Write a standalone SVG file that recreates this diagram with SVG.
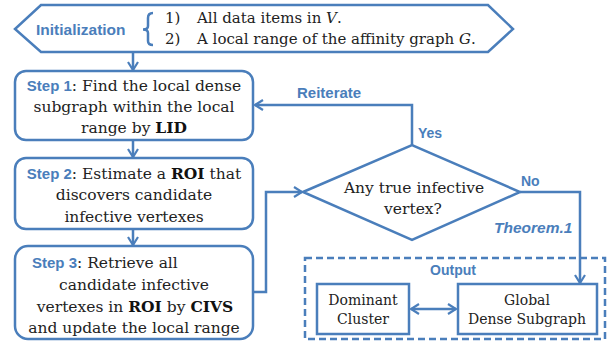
<svg xmlns="http://www.w3.org/2000/svg" width="612" height="345" viewBox="0 0 612 345">
<defs>
<style>
.shape{fill:#fff;stroke:#4a7ebb;stroke-width:2.5}
.line{fill:none;stroke:#4a7ebb;stroke-width:2.5}
.blue{font-family:"Liberation Sans",Arial,sans-serif;font-weight:bold;fill:#4a7ebb}
.serif{font-family:"DejaVu Serif","Liberation Serif",serif;fill:#222}
.b{font-weight:bold;fill:#111}
</style>
<marker id="arr" viewBox="0 0 12 12" refX="10" refY="6" markerWidth="12" markerHeight="12" markerUnits="userSpaceOnUse" orient="auto">
<path d="M2,1 L10,6 L2,11" fill="none" stroke="#4a7ebb" stroke-width="2.2"/>
</marker>
<marker id="arrs" viewBox="0 0 12 12" refX="2" refY="6" markerWidth="12" markerHeight="12" markerUnits="userSpaceOnUse" orient="auto">
<path d="M10,1 L2,6 L10,11" fill="none" stroke="#4a7ebb" stroke-width="2.2"/>
</marker>
</defs>

<g id="connectors">
<line class="line" x1="133" y1="53" x2="133" y2="70" marker-end="url(#arr)"/>
<line class="line" x1="133" y1="141" x2="133" y2="157" marker-end="url(#arr)"/>
<line class="line" x1="133" y1="230" x2="133" y2="245" marker-end="url(#arr)"/>
<polyline class="line" points="254,292 266,292 266,192 302,192" marker-end="url(#arr)"/>
<polyline class="line" points="412,145 412,105 255,105" marker-end="url(#arr)"/>
<polyline class="line" points="520,192 580,192 580,283" marker-end="url(#arr)"/>
<line class="line" x1="411" y1="309" x2="456" y2="309" marker-start="url(#arrs)" marker-end="url(#arr)"/>
<text class="blue" x="297" y="98" font-size="15">Reiterate</text>
<text class="blue" x="418" y="138" font-size="14">Yes</text>
<text class="blue" x="521" y="186" font-size="14">No</text>
<text class="blue" x="494" y="233" font-size="15.5" font-style="italic">Theorem.1</text>
</g>

<g id="init">
<polygon class="shape" points="41,5 488,5 513,29 488,52 41,52 15,29"/>
<text class="blue" x="36" y="35" font-size="15.5">Initialization</text>
<path class="line" d="M153,13 Q148,13 148,18 L148,26 Q148,29.5 143,29.5 Q148,29.5 148,33 L148,41 Q148,45 153,45" stroke-width="2"/>
<text class="serif" font-size="15"><tspan x="165" y="23">1)</tspan><tspan x="197" y="23">All data items in <tspan font-style="italic">V</tspan>.</tspan><tspan x="165" y="44">2)</tspan><tspan x="197" y="44">A local range of the affinity graph <tspan font-style="italic">G</tspan>.</tspan></text>
</g>

<g id="step1">
<rect class="shape" x="15" y="71" width="238" height="69" rx="11"/>
<text class="serif" font-size="15.5" text-anchor="middle"><tspan x="134" y="91"><tspan class="blue" font-size="15">Step 1</tspan>: Find the local dense</tspan><tspan x="134" y="112">subgraph within the local</tspan><tspan x="134" y="133">range by <tspan class="b">LID</tspan></tspan></text>
</g>

<g id="step2">
<rect class="shape" x="15" y="158" width="238" height="71" rx="11"/>
<text class="serif" font-size="15.5" text-anchor="middle"><tspan x="134" y="179"><tspan class="blue" font-size="15">Step 2</tspan>: Estimate a <tspan class="b">ROI</tspan>  that</tspan><tspan x="134" y="200">discovers candidate</tspan><tspan x="134" y="222">infective vertexes</tspan></text>
</g>

<g id="step3">
<rect class="shape" x="15" y="246" width="238" height="93" rx="13"/>
<text class="serif" font-size="15.5"><tspan x="32" y="268"><tspan class="blue" font-size="15">Step 3</tspan>: Retrieve all</tspan></text>
<text class="serif" font-size="15.5" text-anchor="middle"><tspan x="134" y="290">candidate infective</tspan><tspan x="135" y="312">vertexes in <tspan class="b">ROI</tspan>  by <tspan class="b">CIVS</tspan></tspan><tspan x="134" y="333">and update the local range</tspan></text>
</g>

<g id="decision">
<polygon class="shape" points="303,192 412,145 520,192 412,240"/>
<text class="serif" font-size="15.5" text-anchor="middle"><tspan x="414" y="193">Any true infective</tspan><tspan x="413" y="214">vertex?</tspan></text>
</g>

<g id="output">
<rect x="305" y="258" width="300" height="81" fill="none" stroke="#4a7ebb" stroke-width="2.5" stroke-dasharray="7,4"/>
<text class="blue" x="453" y="275" font-size="14" text-anchor="middle">Output</text>
</g>

<g id="dominant">
<rect class="shape" x="317" y="284" width="92" height="50"/>
<text class="serif" font-size="14" text-anchor="middle"><tspan x="363" y="305">Dominant</tspan><tspan x="363" y="324">Cluster</tspan></text>
</g>

<g id="global">
<rect class="shape" x="458" y="284" width="139" height="50"/>
<text class="serif" font-size="14" text-anchor="middle"><tspan x="527" y="305">Global</tspan><tspan x="527" y="324">Dense Subgraph</tspan></text>
</g>
</svg>
